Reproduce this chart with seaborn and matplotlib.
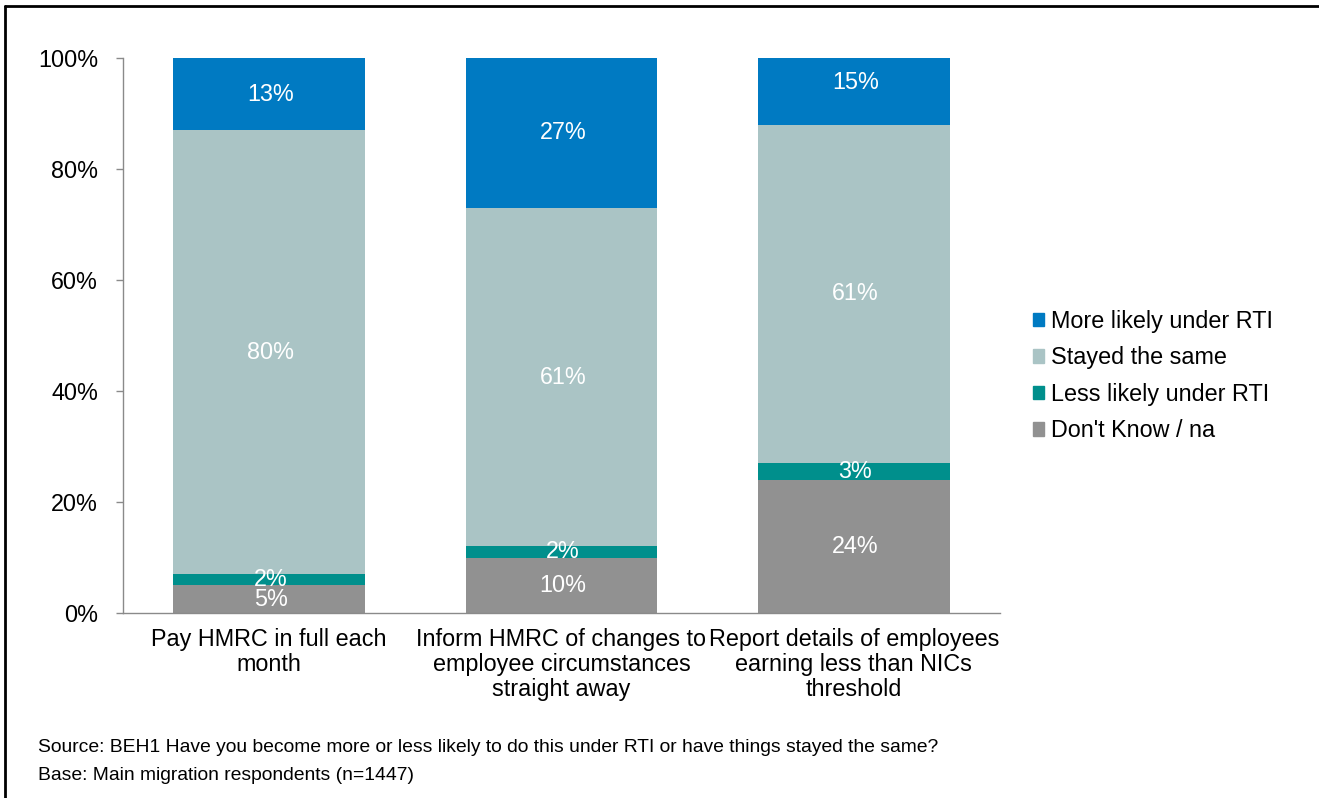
import matplotlib
matplotlib.use("Agg")
import matplotlib.pyplot as plt
import matplotlib.lines as mlines
import matplotlib.patches as mpatches
import numpy as np
import pandas as pd
import seaborn as sns

categories = [
    "Pay HMRC in full each\nmonth",
    "Inform HMRC of changes to\nemployee circumstances\nstraight away",
    "Report details of employees\nearning less than NICs\nthreshold",
]
series_names = ["Don't Know / na", "Less likely under RTI", "Stayed the same", "More likely under RTI"]
dont_know = [5, 10, 24]
less_likely = [2, 2, 3]
stayed_same = [80, 61, 61]
more_likely = [13, 27, 15]
y_ticks = [0, 20, 40, 60, 80, 100]
source_note = "Source: BEH1 Have you become more or less likely to do this under RTI or have things stayed the same?"
base_note = "Base: Main migration respondents (n=1447)"

colors = {
    "Don't Know / na": "#919191",
    "Less likely under RTI": "#008F8C",
    "Stayed the same": "#AAC4C5",
    "More likely under RTI": "#007AC2",
}

sns.set_theme(style="white")
plt.rcParams["font.family"] = ["Liberation Sans", "DejaVu Sans"]
plt.rcParams["text.color"] = "black"
plt.rcParams["xtick.color"] = "black"
plt.rcParams["ytick.color"] = "black"

FS = 16.8

fig = plt.figure(figsize=(13.19, 7.98), dpi=100)
ax = fig.add_axes([123 / 1319, 1 - 613 / 798, (1000 - 123) / 1319, (613 - 58) / 798])

values = [dont_know, less_likely, stayed_same, more_likely]
bottom = np.zeros(len(categories))
for name, vals in zip(series_names, values):
    vals = np.array(vals, dtype=float)
    df = pd.DataFrame({"category": categories, "value": vals / 100})
    sns.barplot(data=df, x="category", y="value", bottom=bottom / 100,
                color=colors[name], width=0.655, ax=ax, saturation=1,
                linewidth=0)
    for i, v in enumerate(vals):
        ax.text(i + 0.005, (bottom[i] + v / 2) / 100, f"{int(v)}%", ha="center", va="center",
                color="white", fontsize=FS)
    bottom += vals

ax.set_ylim(0, 1)
ax.set_xlim(-0.5, len(categories) - 0.5)
ax.set_yticks([t / 100 for t in y_ticks])
ax.set_yticklabels([f"{t}%" for t in y_ticks], fontsize=FS, color="black")
ax.set_xlabel("")
ax.set_ylabel("")
ax.set_xticks(range(len(categories)))
ax.set_xticklabels(categories, fontsize=FS, color="black", linespacing=1.1)
ax.set_xticks(np.arange(-0.5, len(categories)), minor=True)
ax.tick_params(axis="x", which="major", length=0, pad=11)
ax.tick_params(axis="x", which="minor", length=7, width=1, color="#8a8a8a", direction="out")
ax.tick_params(axis="y", which="major", length=5, width=1, color="#8a8a8a", direction="out", pad=13, left=True)
for side in ["top", "right"]:
    ax.spines[side].set_visible(False)
for side in ["left", "bottom"]:
    ax.spines[side].set_color("#8a8a8a")
    ax.spines[side].set_linewidth(1)

handles = [mpatches.Patch(color=colors[n], label=n) for n in reversed(series_names)]
fig.legend(handles=handles, loc="center left", bbox_to_anchor=(1021 / 1319, 1 - 376 / 798),
           frameon=False, fontsize=FS, handlelength=0.5, handleheight=0.5,
           handletextpad=0.3, labelspacing=0.58, borderpad=0)

fig.text(38 / 1319, 1 - 748 / 798, source_note, fontsize=13.9, va="center", ha="left")
fig.text(38 / 1319, 1 - 776 / 798, base_note, fontsize=13.9, va="center", ha="left")

# outer frame around the figure
fig.add_artist(mlines.Line2D([5 / 1319, 1.0], [1 - 6 / 798, 1 - 6 / 798], color="black", lw=2,
                             transform=fig.transFigure))
fig.add_artist(mlines.Line2D([5 / 1319, 5 / 1319], [0, 1 - 6 / 798], color="black", lw=2,
                             transform=fig.transFigure))

fig.savefig("out.png", dpi=100)
